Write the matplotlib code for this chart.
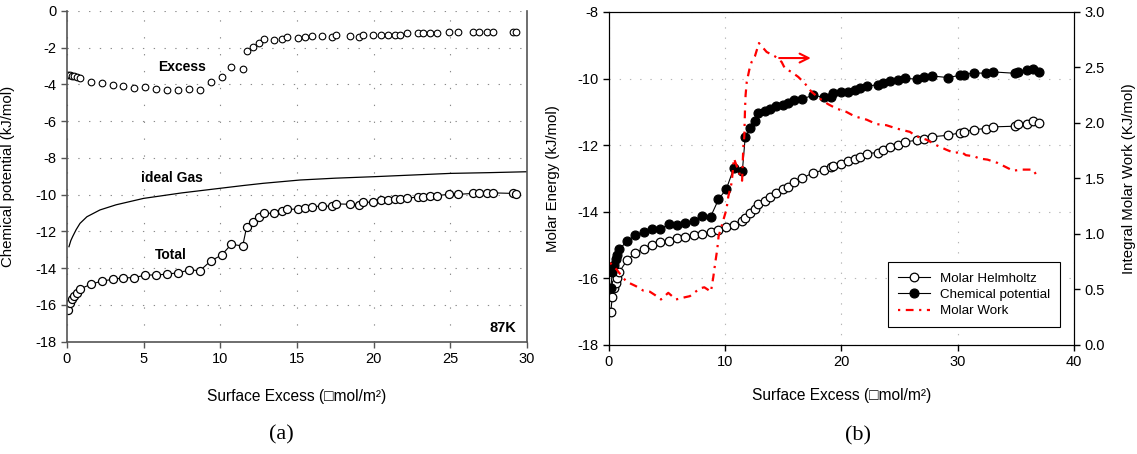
import matplotlib
matplotlib.use("Agg")
import matplotlib.pyplot as plt
from matplotlib.lines import Line2D

plt.rcParams['font.family'] = ['Liberation Sans', 'DejaVu Sans']
plt.rcParams['axes.unicode_minus'] = False

# (a) excess / total chemical potential at 87K
surf_a = [0.09, 0.2, 0.3, 0.46, 0.63, 0.85, 1.55, 2.26, 2.98, 3.67, 4.39, 5.1, 5.83, 6.54,
          7.26, 7.98, 8.68, 9.37, 10.09, 10.72, 11.46, 11.72, 12.15, 12.55, 12.85, 13.5,
          14.0, 14.37, 15.05, 15.53, 16.0, 16.6, 17.3, 17.55, 18.46, 19.07, 19.29, 19.98,
          20.5, 20.96, 21.4, 21.7, 22.2, 22.9, 23.2, 23.7, 24.1, 24.9, 25.5, 26.5, 26.9,
          27.4, 27.8, 29.1, 29.3]
excess = [-3.48, -3.50, -3.52, -3.56, -3.60, -3.65, -3.85, -3.90, -4.03, -4.08, -4.17, -4.15,
          -4.26, -4.28, -4.30, -4.23, -4.30, -3.85, -3.61, -3.03, -3.18, -2.18, -1.94, -1.76,
          -1.54, -1.58, -1.52, -1.43, -1.45, -1.40, -1.36, -1.36, -1.40, -1.29, -1.36, -1.40,
          -1.29, -1.29, -1.31, -1.31, -1.31, -1.31, -1.21, -1.18, -1.18, -1.18, -1.18, -1.12,
          -1.12, -1.16, -1.16, -1.16, -1.16, -1.16, -1.16]
total = [-16.28, -15.90, -15.70, -15.50, -15.33, -15.13, -14.88, -14.70, -14.61, -14.52,
         -14.52, -14.37, -14.37, -14.32, -14.25, -14.10, -14.13, -13.61, -13.28, -12.70,
         -12.79, -11.74, -11.47, -11.23, -11.01, -11.01, -10.89, -10.80, -10.78, -10.71,
         -10.65, -10.62, -10.62, -10.50, -10.52, -10.56, -10.41, -10.41, -10.29, -10.27,
         -10.25, -10.22, -10.20, -10.11, -10.10, -10.07, -10.05, -9.98, -9.98, -9.93, -9.93,
         -9.92, -9.90, -9.93, -9.95]
gas_x = [0.13, 0.25, 0.37, 0.6, 0.85, 1.3, 2.15, 3.2, 4.33, 5, 7.5, 10, 11.5, 12.8, 15.2,
         17.5, 20, 22.5, 25, 27.5, 30]
gas_y = [-12.83, -12.5, -12.28, -11.9, -11.56, -11.2, -10.83, -10.55, -10.33, -10.2, -9.9,
         -9.65, -9.5, -9.38, -9.2, -9.1, -9.02, -8.93, -8.84, -8.8, -8.75]

# (b) molar energies and integral molar work
surf_b = [0.15, 0.29, 0.43, 0.58, 0.72, 0.9, 1.56, 2.28, 3.0, 3.72, 4.43, 5.16, 5.87, 6.58,
          7.3, 8.02, 8.74, 9.42, 10.1, 10.73, 11.47, 11.72, 12.16, 12.53, 12.84, 13.45,
          13.84, 14.36, 14.93, 15.42, 15.93, 16.6, 17.52, 18.47, 19.1, 19.27, 19.98, 20.6,
          21.15, 21.58, 22.2, 23.16, 23.53, 24.2, 24.88, 25.5, 26.46, 27.1, 27.75, 29.18,
          30.18, 30.5, 31.41, 32.45, 33.05, 34.9, 35.2, 35.92, 36.5, 36.95]
helmholtz = [-17.01, -16.55, -16.3, -16.14, -16.0, -15.8, -15.45, -15.23, -15.11, -14.99,
             -14.92, -14.87, -14.8, -14.75, -14.71, -14.66, -14.62, -14.55, -14.46, -14.4,
             -14.28, -14.2, -14.05, -13.93, -13.78, -13.67, -13.57, -13.43, -13.33, -13.25,
             -13.1, -13.0, -12.83, -12.75, -12.66, -12.62, -12.55, -12.47, -12.4, -12.35,
             -12.25, -12.22, -12.14, -12.06, -11.98, -11.9, -11.85, -11.8, -11.75, -11.7,
             -11.63, -11.6, -11.53, -11.5, -11.45, -11.43, -11.37, -11.35, -11.28, -11.32]
chem_pot = [-16.29, -15.82, -15.6, -15.42, -15.3, -15.12, -14.88, -14.7, -14.6, -14.52,
            -14.52, -14.37, -14.4, -14.33, -14.27, -14.12, -14.15, -13.63, -13.31, -12.7,
            -12.79, -11.75, -11.49, -11.26, -11.03, -10.97, -10.9, -10.81, -10.78, -10.72,
            -10.65, -10.62, -10.5, -10.56, -10.55, -10.43, -10.41, -10.4, -10.33, -10.27,
            -10.23, -10.18, -10.13, -10.07, -10.03, -9.99, -10.02, -9.96, -9.92, -9.97,
            -9.9, -9.88, -9.83, -9.84, -9.8, -9.84, -9.79, -9.75, -9.71, -9.8]
work_x = [0.09, 0.66, 1.1, 1.52, 2.32, 2.95, 3.52, 3.96, 4.47, 5.1, 5.76, 6.53, 6.96, 7.82,
          8.2, 8.77, 8.97, 9.14, 9.31, 9.43, 10.1, 10.27, 10.55, 10.75, 11.45, 11.55, 11.64,
          11.7, 11.75, 11.85, 12.07, 12.27, 12.55, 12.9, 13.56, 14.28, 14.85, 15.14, 15.7,
          16.28, 16.85, 17.43, 18.13, 18.84, 19.56, 20.42, 21.13, 22.16, 23.0, 23.86, 24.74,
          25.88, 26.46, 27.3, 28.16, 29.0, 29.7, 30.3, 30.7, 31.42, 31.85, 32.56, 33.43,
          34.76, 35.48, 36.48, 36.77]
work_y = [0.74, 0.68, 0.62, 0.57, 0.53, 0.49, 0.48, 0.45, 0.41, 0.47, 0.41, 0.43, 0.44, 0.51,
          0.52, 0.48, 0.61, 0.74, 0.86, 0.98, 1.22, 1.34, 1.46, 1.68, 1.48, 1.77, 1.88,
          2.12, 2.25, 2.37, 2.48, 2.55, 2.6, 2.72, 2.64, 2.6, 2.55, 2.49, 2.46,
          2.415, 2.356, 2.28, 2.22, 2.17, 2.13, 2.1, 2.06, 2.03, 1.99, 1.98, 1.95,
          1.92, 1.88, 1.85, 1.8, 1.76, 1.73, 1.74, 1.71, 1.7, 1.68, 1.67, 1.64,
          1.57, 1.58, 1.58, 1.53]

fig = plt.figure(figsize=(11.37, 4.54), dpi=100)
ax = fig.add_axes([0.0589, 0.2474, 0.4046, 0.7284])
bx = fig.add_axes([0.5356, 0.2401, 0.4090, 0.7335])

# ---- panel (a)
ax.plot(gas_x, gas_y, color='black', lw=0.9)
ax.plot(surf_a, total, '-o', color='black', lw=0.8, ms=5.8, mfc='white', mew=0.9)
ax.plot(surf_a, excess, 'o', color='black', ms=4.8, mfc='white', mew=0.8, ls='none')

ax.set_xlim(0, 30)
ax.set_ylim(-18, 0)
ax.set_xticks(range(0, 31, 5))
ax.set_yticks(range(-18, 1, 2))
ax.spines['top'].set_visible(False)
for s in ('left', 'bottom', 'right'):
    ax.spines[s].set_color('#555555')
    ax.spines[s].set_linewidth(1.2)
ax.tick_params(direction='out', length=4, width=1, color='#555555', labelsize=10.5)
ax.yaxis.grid(True, color='#8a8a8a', lw=0.8, linestyle=(0, (1.2, 8.5)))
ax.xaxis.grid(True, color='#8a8a8a', lw=0.8, linestyle=(0, (1.2, 14)))
ax.set_axisbelow(True)

ax.set_ylabel('Chemical potential (kJ/mol)', fontsize=10.8)
ax.yaxis.set_label_coords(-0.112, 0.5)
ax.set_xlabel('Surface Excess (\u25a1mol/m\u00b2)', fontsize=11.2)
ax.xaxis.set_label_coords(0.5, -0.143)

ax.text(7.5, -3.03, 'Excess', fontsize=10, fontweight='bold', ha='center', va='center')
ax.text(6.83, -9.07, 'ideal Gas', fontsize=10, fontweight='bold', ha='center', va='center')
ax.text(6.76, -13.28, 'Total', fontsize=10, fontweight='bold', ha='center', va='center')
ax.text(28.4, -17.27, '87K', fontsize=10.5, fontweight='bold', ha='center', va='center')

# ---- panel (b)
bx.plot(surf_b, helmholtz, '-o', color='black', lw=0.8, ms=6.2, mfc='white', mew=0.9)
bx.plot(surf_b, chem_pot, '-o', color='black', lw=0.8, ms=6.4, mfc='black', mew=0.9)
bx.set_xlim(0, 40)
bx.set_ylim(-18, -8)
bx.set_xticks(range(0, 41, 10))
bx.set_yticks(range(-18, -7, 2))
bx.tick_params(direction='out', length=4, width=1, labelsize=10.5)
bx.yaxis.grid(True, color='#b5b5b5', lw=0.8, linestyle=(0, (1.2, 8)))
bx.xaxis.grid(True, color='#b5b5b5', lw=0.8, linestyle=(0, (1.2, 8)))
bx.set_axisbelow(True)
bx.set_ylabel('Molar Energy (kJ/mol)', fontsize=10.8)
bx.yaxis.set_label_coords(-0.105, 0.5)
bx.set_xlabel('Surface Excess (\u25a1mol/m\u00b2)', fontsize=11.2)
bx.xaxis.set_label_coords(0.5, -0.129)

wx = bx.twinx()
wx.plot(work_x, work_y, color='red', lw=1.6, dashes=(1, 2.5, 3.5, 2.5))
wx.set_ylim(0, 3)
wx.set_yticks([0, 0.5, 1.0, 1.5, 2.0, 2.5, 3.0])
wx.yaxis.set_major_formatter(matplotlib.ticker.FormatStrFormatter('%.1f'))
wx.tick_params(direction='out', length=4, width=1, labelsize=10.5)
wx.set_ylabel('Integral Molar Work (KJ/mol)', fontsize=10.8)
wx.yaxis.set_label_coords(1.104, 0.5)
wx.annotate('', xy=(17.6, 2.585), xytext=(14.4, 2.585),
            arrowprops=dict(arrowstyle='->', color='red', lw=1.5, mutation_scale=16))

handles = [
    Line2D([], [], color='black', lw=0.8, marker='o', ms=6.2, mfc='white', mew=0.9),
    Line2D([], [], color='black', lw=0.8, marker='o', ms=6.4, mfc='black', mew=0.9),
    Line2D([], [], color='red', lw=1.6, dashes=(1, 2.5, 3.5, 2.5)),
]
leg = wx.legend(handles, ['Molar Helmholtz', 'Chemical potential', 'Molar Work'],
                loc='lower right', bbox_to_anchor=(0.985, 0.033), fontsize=9.6,
                fancybox=False, framealpha=1, edgecolor='black', handlelength=2.4,
                labelspacing=0.3, borderpad=0.75)
leg.get_frame().set_linewidth(0.8)

fig.text(281 / 1137, 1 - 435 / 454, '(a)', family='Liberation Serif', fontsize=16,
         ha='center', va='center')
fig.text(858 / 1137, 1 - 436 / 454, '(b)', family='Liberation Serif', fontsize=16,
         ha='center', va='center')

fig.savefig('out.png', dpi=100)
